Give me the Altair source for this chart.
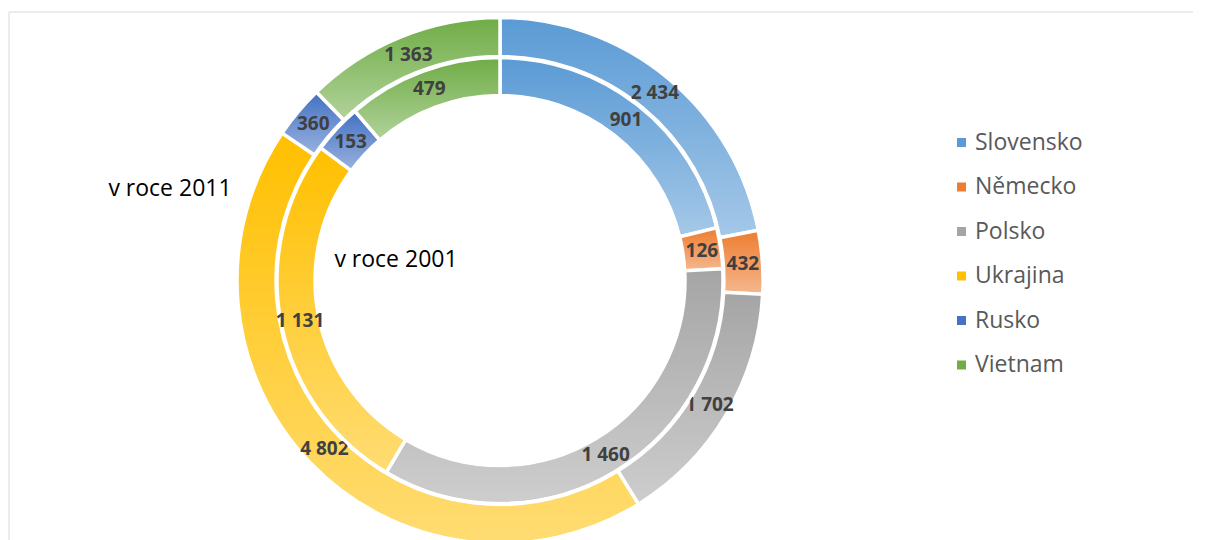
import altair as alt
import pandas as pd

countries = ["Slovensko", "Německo", "Polsko", "Ukrajina", "Rusko", "Vietnam"]
values_2001 = [901, 126, 1460, 1131, 153, 479]
values_2011 = [2434, 432, 1702, 4802, 360, 1363]
colors = ["#5B9BD5", "#ED7D31", "#A5A5A5", "#FFC000", "#4472C4", "#70AD47"]
ring_titles = ["v roce 2011", "v roce 2001"]

rows = []
for year, vals in (("2011", values_2011), ("2001", values_2001)):
    for i, (c, v) in enumerate(zip(countries, vals)):
        rows.append({"year": year, "country": c, "idx": i, "value": v,
                     "label": f"{v:,}".replace(",", " ")})
df = pd.DataFrame(rows)

CX, CY = 492, 272.5
FONT = "Open Sans"
W, H = 1185, 532

legend = alt.Legend(title=None, orient="none", legendX=942, legendY=123,
                    symbolType="square", symbolSize=81, symbolStrokeWidth=0,
                    symbolOpacity=1, labelFontSize=23, labelFont=FONT,
                    labelColor="#595959", labelOffset=2, rowPadding=20.5,
                    padding=0)
color_scale = alt.Scale(domain=countries, range=colors)

shade = alt.LinearGradient(
    gradient="linear", x1=0, x2=0, y1=0, y2=1,
    stops=[alt.GradientStop(color="rgba(255,255,255,0)", offset=0),
           alt.GradientStop(color="rgba(255,255,255,0.45)", offset=1)])


def ring(year, r_out, r_in, r_lab):
    d = alt.Chart(df).transform_filter(alt.datum.year == year)
    enc = dict(theta=alt.Theta("value:Q", stack=True),
               order=alt.Order("idx:Q"),
               x=alt.value(CX), y=alt.value(CY))
    arc = d.mark_arc(radius=r_out, radius2=r_in, stroke="white",
                     strokeWidth=3.5).encode(
        color=alt.Color("country:N", scale=color_scale, legend=legend,
                        sort=countries), **enc)
    grad = d.mark_arc(radius=r_out - 1.75, radius2=r_in + 1.75,
                      fill=shade).encode(detail="country:N", **enc)
    txt = d.mark_text(radius=r_lab, font=FONT, fontSize=19,
                      fontWeight="bold", color="#404040").encode(
        text="label:N", detail="country:N", **enc)
    return alt.layer(arc, grad, txt)


outer = ring("2011", 263, 224, 243.5)
inner = ring("2001", 223, 185, 204)

one = pd.DataFrame({"a": [0]})
t2011 = alt.Chart(one).mark_text(font=FONT, fontSize=23, color="#000000",
                                 align="center", baseline="middle").encode(
    text=alt.value(ring_titles[0]), x=alt.value(162), y=alt.value(181))
t2001 = alt.Chart(one).mark_text(font=FONT, fontSize=23, color="#000000",
                                 align="center", baseline="middle").encode(
    text=alt.value(ring_titles[1]), x=alt.value(388), y=alt.value(252))

frame_top = alt.Chart(one).mark_rule(color="#D9D9D9", strokeWidth=1).encode(
    x=alt.value(1), x2=alt.value(W), y=alt.value(4))
frame_left = alt.Chart(one).mark_rule(color="#D9D9D9", strokeWidth=1).encode(
    x=alt.value(1), y=alt.value(4), y2=alt.value(H))

chart = alt.layer(frame_top, frame_left, outer, inner, t2011, t2001).resolve_scale(
    theta="independent"
).properties(
    width=W, height=H, padding=0, autosize="none"
).configure_view(stroke=None)

chart.save("out.html", embed_options={"renderer": "svg", "actions": False})
